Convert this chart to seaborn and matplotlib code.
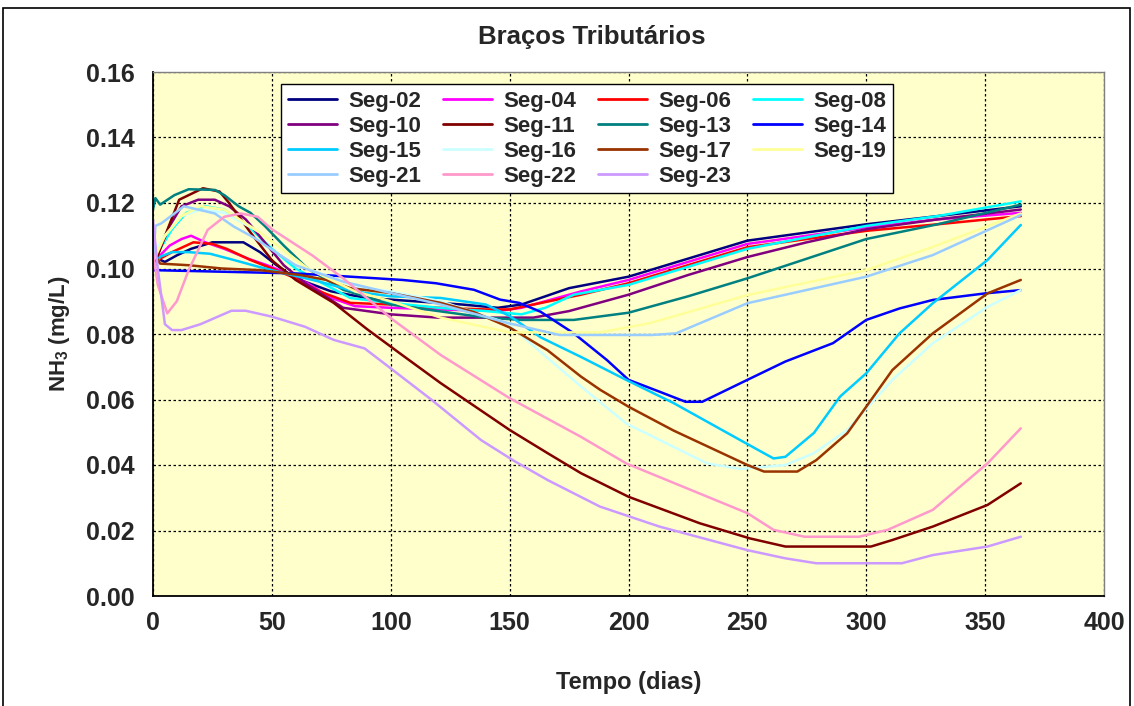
import numpy as np
import pandas as pd
import matplotlib
matplotlib.use("Agg")
import matplotlib.pyplot as plt
from matplotlib.patches import Rectangle
import seaborn as sns

# ---- data: NH3 (mg/L) per segment over the simulated year ----
seg02_days = [0, 2, 5, 10, 16, 25, 38, 45, 52, 60, 75, 90, 110, 130, 145, 155, 175, 200, 225, 250, 275, 300, 330, 365]
seg02_vals = [0.104, 0.103, 0.102, 0.104, 0.106, 0.108, 0.108, 0.105, 0.101, 0.097, 0.093, 0.091, 0.090, 0.089, 0.088,
              0.089, 0.094, 0.0975, 0.103, 0.1085, 0.111, 0.1135, 0.116, 0.119]

seg04_days = [0, 3, 7, 12, 16, 22, 30, 40, 48, 55, 65, 75, 85, 100, 120, 145, 155, 180, 200, 225, 250, 275, 300, 330, 365]
seg04_vals = [0.100, 0.104, 0.107, 0.109, 0.110, 0.108, 0.106, 0.103, 0.101, 0.099, 0.0955, 0.091, 0.0885, 0.088, 0.0875,
              0.087, 0.088, 0.093, 0.0965, 0.102, 0.1075, 0.110, 0.1125, 0.115, 0.117]

seg06_days = [0, 3, 8, 17, 25, 31, 41, 50, 60, 70, 83, 100, 120, 140, 150, 160, 180, 200, 225, 250, 275, 300, 330, 365]
seg06_vals = [0.100, 0.103, 0.105, 0.108, 0.1075, 0.106, 0.1026, 0.100, 0.097, 0.093, 0.0895, 0.089, 0.088, 0.0875,
              0.0875, 0.089, 0.092, 0.0955, 0.101, 0.1065, 0.109, 0.1115, 0.1135, 0.116]

seg08_days = [0, 3, 8, 14, 22, 30, 40, 50, 60, 70, 83, 100, 120, 140, 155, 165, 177, 200, 225, 250, 275, 300, 330, 365]
seg08_vals = [0.101, 0.106, 0.112, 0.117, 0.119, 0.118, 0.113, 0.106, 0.100, 0.096, 0.091, 0.0895, 0.088, 0.087, 0.086,
              0.088, 0.092, 0.095, 0.1005, 0.106, 0.1095, 0.113, 0.116, 0.1205]

seg10_days = [0, 3, 7, 12, 19, 26, 32, 39, 47, 55, 65, 80, 100, 120, 140, 160, 175, 200, 225, 250, 275, 300, 330, 365]
seg10_vals = [0.100, 0.106, 0.113, 0.119, 0.121, 0.121, 0.119, 0.115, 0.108, 0.101, 0.095, 0.088, 0.086, 0.085, 0.085,
              0.085, 0.087, 0.092, 0.098, 0.1035, 0.108, 0.112, 0.115, 0.118]

seg11_days = [0, 4, 11, 21, 28, 32, 41, 50, 60, 76, 90, 104, 121, 150, 166, 180, 200, 230, 251, 266, 302, 311, 328, 351, 365]
seg11_vals = [0.100, 0.108, 0.121, 0.1245, 0.1235, 0.120, 0.111, 0.1025, 0.0965, 0.0895, 0.0815, 0.074, 0.065, 0.0507,
              0.0436, 0.0375, 0.0303, 0.0222, 0.0176, 0.0151, 0.0151, 0.0171, 0.0212, 0.0278, 0.0344]

seg13_days = [0, 1, 3, 9, 15, 26, 30, 36, 41, 47, 55, 65, 80, 100, 120, 140, 155, 177, 200, 225, 250, 275, 300, 330, 365]
seg13_vals = [0.118, 0.1215, 0.1195, 0.1224, 0.1242, 0.124, 0.1224, 0.119, 0.117, 0.113, 0.107, 0.100, 0.0935, 0.089,
              0.087, 0.085, 0.0843, 0.0843, 0.0865, 0.0915, 0.097, 0.103, 0.109, 0.1135, 0.1195]

seg14_days = [0, 60, 83, 105, 119, 135, 146, 154, 163, 177, 191, 200, 213, 224, 231, 250, 266, 286, 300, 314, 328, 350, 365]
seg14_vals = [0.0995, 0.0985, 0.0975, 0.0965, 0.0955, 0.0935, 0.0905, 0.0895, 0.0868, 0.0802, 0.072, 0.066, 0.0624,
              0.0593, 0.0593, 0.066, 0.0716, 0.0772, 0.0843, 0.0878, 0.0904, 0.0924, 0.0934]

seg15_days = [0, 3, 8, 15, 24, 34, 44, 55, 70, 85, 100, 121, 140, 150, 163, 180, 199, 219, 247, 261, 266, 278, 289, 300,
              314, 328, 351, 365]
seg15_vals = [0.100, 0.1036, 0.105, 0.105, 0.1045, 0.1026, 0.1006, 0.0986, 0.096, 0.093, 0.0915, 0.091, 0.089, 0.0855,
              0.079, 0.073, 0.066, 0.0589, 0.0476, 0.042, 0.0425, 0.0498, 0.0609, 0.068, 0.0802, 0.0894, 0.1026, 0.1133]

seg16_days = [0, 5, 12, 20, 30, 45, 65, 85, 100, 121, 149, 163, 180, 199, 233, 247, 266, 278, 292, 311, 328, 351, 365]
seg16_vals = [0.104, 0.110, 0.116, 0.118, 0.117, 0.111, 0.100, 0.0945, 0.093, 0.090, 0.0833, 0.0745, 0.064, 0.0527,
              0.0405, 0.0388, 0.040, 0.0436, 0.0507, 0.066, 0.0772, 0.0883, 0.0934]

seg17_days = [0, 3, 15, 29, 45, 62, 73, 83, 100, 121, 135, 150, 166, 180, 188, 200, 219, 250, 257, 271, 279, 292, 300,
              311, 328, 351, 365]
seg17_vals = [0.105, 0.1015, 0.101, 0.100, 0.0995, 0.098, 0.0965, 0.094, 0.0925, 0.0895, 0.0867, 0.082, 0.075, 0.067,
              0.063, 0.0578, 0.0505, 0.040, 0.038, 0.038, 0.0415, 0.0497, 0.0578, 0.069, 0.0802, 0.0924, 0.0965]

seg19_days = [0, 5, 12, 20, 30, 45, 65, 85, 100, 121, 150, 188, 209, 250, 300, 328, 365]
seg19_vals = [0.102, 0.110, 0.116, 0.119, 0.118, 0.111, 0.100, 0.093, 0.090, 0.085, 0.0805, 0.0805, 0.0833, 0.0919,
              0.0995, 0.1066, 0.1168]

seg21_days = [0, 1, 3.5, 13, 26, 34, 43, 48, 60, 80, 100, 121, 149, 171, 210, 220, 250, 300, 328, 365]
seg21_vals = [0.100, 0.113, 0.1138, 0.119, 0.1168, 0.1128, 0.1092, 0.1067, 0.101, 0.096, 0.0925, 0.089, 0.0834, 0.0797,
              0.0797, 0.0802, 0.0894, 0.0975, 0.1041, 0.1163]

seg22_days = [0, 2, 6, 10, 15, 23, 30, 37, 44, 50, 67, 80, 101, 121, 150, 180, 199, 250, 261, 274, 297, 309, 328, 351, 365]
seg22_vals = [0.105, 0.095, 0.0863, 0.090, 0.0995, 0.1118, 0.1158, 0.1168, 0.1158, 0.112, 0.104, 0.097, 0.0843, 0.0736,
              0.0604, 0.0486, 0.0405, 0.0253, 0.0202, 0.0181, 0.0181, 0.0202, 0.0263, 0.0405, 0.0512]

seg23_days = [0, 2, 5, 8, 12, 20, 33, 39, 50, 64, 76, 89, 100, 117, 138, 152, 166, 188, 213, 250, 266, 279, 315, 328,
              351, 365]
seg23_vals = [0.115, 0.100, 0.083, 0.0812, 0.0812, 0.083, 0.0871, 0.0871, 0.0853, 0.0822, 0.0782, 0.0756, 0.0695, 0.060,
              0.0476, 0.0412, 0.0354, 0.0273, 0.0212, 0.014, 0.0115, 0.010, 0.010, 0.0125, 0.0151, 0.0181]

segments = ["Seg-02", "Seg-04", "Seg-06", "Seg-08", "Seg-10", "Seg-11", "Seg-13", "Seg-14",
            "Seg-15", "Seg-16", "Seg-17", "Seg-19", "Seg-21", "Seg-22", "Seg-23"]
series = {
    "Seg-02": (seg02_days, seg02_vals), "Seg-04": (seg04_days, seg04_vals),
    "Seg-06": (seg06_days, seg06_vals), "Seg-08": (seg08_days, seg08_vals),
    "Seg-10": (seg10_days, seg10_vals), "Seg-11": (seg11_days, seg11_vals),
    "Seg-13": (seg13_days, seg13_vals), "Seg-14": (seg14_days, seg14_vals),
    "Seg-15": (seg15_days, seg15_vals), "Seg-16": (seg16_days, seg16_vals),
    "Seg-17": (seg17_days, seg17_vals), "Seg-19": (seg19_days, seg19_vals),
    "Seg-21": (seg21_days, seg21_vals), "Seg-22": (seg22_days, seg22_vals),
    "Seg-23": (seg23_days, seg23_vals),
}

colors = {
    "Seg-02": "#000080", "Seg-04": "#FF00FF", "Seg-06": "#FF0000", "Seg-08": "#00FFFF",
    "Seg-10": "#800080", "Seg-11": "#800000", "Seg-13": "#008080", "Seg-14": "#0000FF",
    "Seg-15": "#00CCFF", "Seg-16": "#CCFFFF", "Seg-17": "#993300", "Seg-19": "#FFFF99",
    "Seg-21": "#99CCFF", "Seg-22": "#FF99CC", "Seg-23": "#CC99FF",
}

frames = [pd.DataFrame({"Tempo": d, "NH3": v, "Segmento": name}) for name, (d, v) in series.items()]
df = pd.concat(frames, ignore_index=True)

# ---- styling ----
sns.set_style("white")
plt.rcParams["font.family"] = ["Liberation Sans", "DejaVu Sans"]
plt.rcParams["font.weight"] = "bold"
plt.rcParams["mathtext.fontset"] = "custom"
plt.rcParams["mathtext.rm"] = "Liberation Sans:bold"
plt.rcParams["mathtext.it"] = "Liberation Sans:bold"
plt.rcParams["mathtext.bf"] = "Liberation Sans:bold"

W, H = 1134, 706
fig = plt.figure(figsize=(W / 100, H / 100), dpi=100, facecolor="white")
ax = fig.add_axes([153 / W, 1 - 596 / H, 951 / W, 524 / H])
ax.set_facecolor("#FFFFCC")

sns.lineplot(data=df, x="Tempo", y="NH3", hue="Segmento", hue_order=segments,
             palette=colors, linewidth=1.8, sort=False, estimator=None, ax=ax)

ax.set_xlim(0, 400)
ax.set_ylim(0, 0.16)
ax.set_xticks(np.arange(0, 401, 50))
ax.set_yticks(np.arange(0, 0.161, 0.02))
ax.set_yticklabels([f"{t:.2f}" for t in np.arange(0, 0.161, 0.02)])
ax.tick_params(axis="both", which="major", labelsize=18, direction="out", length=5,
               width=1, color="black")
ax.tick_params(axis="y", pad=8)
ax.tick_params(axis="x", pad=6)
for lab in ax.get_xticklabels() + ax.get_yticklabels():
    lab.set_fontweight("bold")

ax.grid(True, color="black", linestyle=(0, (2, 2)), linewidth=0.9)
for side, sp in ax.spines.items():
    sp.set_visible(True)
    sp.set_color("black" if side in ("left", "bottom") else "#808080")
    sp.set_linewidth(1.3 if side in ("left", "bottom") else 1.0)

ax.set_xlabel("Tempo (dias)", fontsize=17, fontweight="bold", labelpad=26)
ax.set_ylabel("NH$_3$ (mg/L)", fontsize=16, fontweight="bold", labelpad=10)
fig.text(592 / W, 1 - 37 / H, "Braços Tributários", fontsize=18.5, fontweight="bold",
         ha="center", va="center")

# legend laid out row by row (matplotlib fills columns first)
handles, labels = ax.get_legend_handles_labels()
ncol = 4
nrow = int(np.ceil(len(handles) / ncol))
order = [r * ncol + c for c in range(ncol) for r in range(nrow) if r * ncol + c < len(handles)]
leg = ax.legend([handles[i] for i in order], [labels[i] for i in order],
                loc="upper left", bbox_to_anchor=(0.135, 0.977), ncol=ncol,
                frameon=True, fancybox=False, shadow=False, fontsize=16,
                handlelength=2.2, handletextpad=0.5, columnspacing=1.0,
                labelspacing=0.18, borderpad=0.3, borderaxespad=0.0)
leg.get_frame().set_edgecolor("black")
leg.get_frame().set_linewidth(1.0)
leg.get_frame().set_facecolor("white")
leg.get_frame().set_alpha(1.0)
for line in leg.get_lines():
    line.set_linewidth(2.0)
for txt in leg.get_texts():
    txt.set_fontweight("bold")

# outer chart frame
fig.patches.append(Rectangle((3 / W, -0.02), 1127 / W, 1.02 - 8 / H, transform=fig.transFigure,
                             fill=False, edgecolor="black", linewidth=1.2))

fig.savefig("out.png", dpi=100, facecolor="white")
